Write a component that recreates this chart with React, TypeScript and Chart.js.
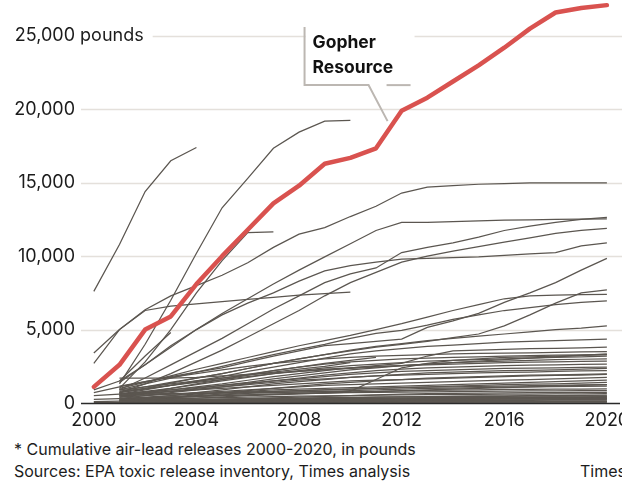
import React, { useEffect, useRef } from "react";
import { Chart, registerables } from "chart.js";

Chart.register(...registerables);

const _ = null;

const years = [2000, 2001, 2002, 2003, 2004, 2005, 2006, 2007, 2008, 2009, 2010, 2011, 2012, 2013, 2014, 2015, 2016, 2017, 2018, 2019, 2020];
const yTicks = [0, 5000, 10000, 15000, 20000, 25000];
const xTicks = [2000, 2004, 2008, 2012, 2016, 2020];
const unitLabel = "pounds";
const highlightName = ["Gopher", "Resource"];

// Gopher Resource, cumulative pounds
const gopherResource = [1100, 2600, 5000, 5900, 8100, 10000, 11800, 13600, 14800, 16300, 16700, 17350, 19900, 20800, 21900, 23000, 24200, 25500, 26600, 26900, 27100];

// other facilities, upper group
const upperLines = [
  [7600, 10800, 14400, 16500, 17400, _, _, _, _, _, _, _, _, _, _, _, _, _, _, _, _],
  [_, 1300, 4000, 7000, 10200, 13300, 15300, 17350, 18450, 19200, 19250, _, _, _, _, _, _, _, _, _, _],
  [_, 1000, 2800, 5000, 7500, 9700, 11600, 11650, _, _, _, _, _, _, _, _, _, _, _, _, _],
  [_, 1500, 3200, 4800, _, _, _, _, _, _, _, _, _, _, _, _, _, _, _, _, _],
  [2700, 5000, 6300, 6600, 6750, 6900, 7050, 7200, 7350, 7450, 7550, _, _, _, _, _, _, _, _, _, _],
  [3400, 5000, 6350, 7300, 8000, 8700, 9550, 10600, 11500, 11950, 12700, 13400, 14300, 14700, 14800, 14900, 14950, 15000, 15000, 15000, 15000],
  [_, 1400, 2600, 3800, 5000, 6100, 7100, 8100, 9050, 9950, 10850, 11750, 12300, 12300, 12350, 12400, 12450, 12480, 12500, 12520, 12550],
  [_, 900, 1700, 2600, 3500, 4400, 5400, 6400, 7300, 8200, 8800, 9200, 10250, 10600, 10900, 11300, 11750, 12050, 12300, 12500, 12650],
  [900, 1500, 2600, 3900, 5000, 6000, 6800, 7500, 8300, 9000, 9350, 9600, 9800, 9850, 9900, 9950, 10050, 10150, 10250, 10700, 10900],
  [_, 700, 1300, 2000, 2800, 3600, 4500, 5400, 6300, 7300, 8200, 8900, 9600, 10000, 10350, 10650, 10950, 11250, 11550, 11750, 11900],
];

// middle group
const middleLines = [
  [_, 1150, 1450, 1800, 2100, 2400, 2800, 3200, 3550, 3900, 4050, 4200, 4350, 5150, 5600, 6100, 6850, 7500, 8200, 9050, 9850],
  [_, 1000, 1400, 1850, 2300, 2700, 3100, 3500, 3900, 4250, 4600, 5000, 5400, 5850, 6300, 6700, 7100, 7300, 7350, 7380, 7400],
  [_, 700, 1000, 1350, 1700, 2000, 2350, 2700, 3000, 3300, 3550, 3800, 4000, 4200, 4450, 4700, 5250, 6000, 6800, 7500, 7700],
  [_, 900, 1300, 1700, 2100, 2500, 2900, 3300, 3650, 4000, 4400, 4750, 4950, 5300, 5700, 6000, 6300, 6500, 6700, 6850, 6950],
  [_, 800, 1100, 1400, 1700, 2000, 2350, 2700, 3000, 3300, 3600, 3850, 4050, 4250, 4400, 4550, 4700, 4850, 5000, 5100, 5250],
  [_, 600, 900, 1200, 1500, 1800, 2150, 2450, 2750, 3050, 3350, 3550, 3700, 3850, 3950, 4050, 4150, 4200, 4250, 4300, 4350],
  [_, 500, 700, 900, 1100, 1300, 1550, 1800, 2000, 2200, 2400, 2550, 2700, 3200, 3550, 3600, 3650, 3700, 3720, 3750, 3800],
  [_, 400, 700, 1000, 1300, 1600, 1900, 2200, 2450, 2700, 2900, 3100, _, _, _, _, _, _, _, _, _],
  [_, 900, 1100, 1300, 1500, 1700, 1900, 2100, 2300, 2500, 2750, _, _, _, _, _, _, _, _, _, _],
  [_, 600, 620, 640, 660, 680, 700, 720, 740, 760, 800, 1600, 2400, 2700, 2900, 3000, 3100, 3150, 3200, 3250, 3300],
  [700, 1100, 1450, 1750, 2000, 2250, 2500, 2700, 2850, 3000, 3100, 3200, 3250, 3300, 3350, 3380, 3400, 3420, 3450, 3480, 3500],
];

// lower group
const lowerLines = [
  [_, 700, 950, 1200, 1450, 1700, 1950, 2200, 2450, 2650, 2800, 2900, 3000, 3050, 3100, 3150, 3200, 3230, 3260, 3280, 3300],
  [_, 600, 800, 1000, 1250, 1500, 1750, 2000, 2200, 2400, 2550, 2650, 2750, 2850, 2900, 2950, 3000, 3050, 3100, 3150, 3200],
  [_, 400, 600, 800, 1000, 1200, 1400, 1650, 1850, 2050, 2250, 2400, 2550, 2650, 2750, 2800, 2850, 2900, 2950, 2980, 3000],
  [_, 800, 1000, 1200, 1400, 1600, 1800, 2000, 2150, 2300, 2400, 2500, 2550, 2600, 2650, 2700, 2750, 2780, 2800, 2830, 2850],
  [_, 300, 500, 700, 900, 1100, 1300, 1500, 1700, 1900, 2050, 2200, 2300, 2400, 2450, 2500, 2550, 2580, 2600, 2630, 2650],
  [_, 600, 750, 900, 1050, 1200, 1350, 1500, 1650, 1800, 1950, 2050, 2150, 2200, 2250, 2300, 2350, 2380, 2400, 2420, 2450],
  [_, 200, 350, 500, 700, 900, 1100, 1300, 1450, 1600, 1750, 1850, 1950, 2050, 2100, 2150, 2200, 2230, 2260, 2300, 2350],
  [_, 500, 650, 800, 950, 1100, 1250, 1400, 1550, 1650, 1750, 1850, 1900, 1950, 2000, 2050, 2080, 2100, 2150, 2180, 2200],
  [_, 100, 250, 400, 550, 700, 850, 1000, 1150, 1300, 1400, 1500, 1600, 1700, 1750, 1800, 1850, 1900, 1920, 1950, 1980],
  [_, 1700, 1700, 1700, 1750, 1850, 1950, 2050, 2150, 2250, 2350, 2450, 2550, 2650, 2750, 2850, 2950, 3050, 3150, 3250, 3350],
  [_, 400, 500, 600, 700, 800, 900, 1000, 1100, 1200, 1250, 1300, 1350, 1400, 1450, 1500, 1550, 1600, 1650, 1700, 1750],
  [_, 300, 400, 500, 600, 700, 800, 900, 950, 1000, 1050, 1100, 1150, 1200, 1250, 1300, 1350, 1400, 1450, 1500, 1550],
  [_, 200, 300, 400, 500, 600, 700, 800, 850, 900, 950, 1000, 1050, 1100, 1150, 1200, 1250, 1280, 1300, 1350, 1400],
  [_, 500, 550, 600, 650, 700, 750, 800, 850, 900, 950, 1000, 1050, 1080, 1100, 1130, 1150, 1180, 1200, 1230, 1250],
  [_, 150, 250, 350, 450, 550, 650, 700, 750, 800, 850, 900, 950, 1000, 1020, 1050, 1080, 1100, 1120, 1140, 1150],
  [_, 100, 180, 260, 340, 420, 500, 560, 620, 680, 740, 780, 820, 860, 880, 900, 920, 930, 940, 950, 960],
  [_, 300, 350, 400, 450, 500, 550, 600, 640, 680, 700, 720, 740, 760, 780, 800, 810, 820, 830, 840, 850],
  [_, 50, 100, 150, 200, 250, 300, 350, 400, 450, 500, 550, 600, 640, 660, 680, 690, 700, 710, 720, 730],
  [_, 250, 280, 310, 340, 370, 400, 430, 460, 490, 510, 530, 550, 570, 580, 590, 600, 610, 620, 630, 640],
  [_, 100, 130, 160, 190, 220, 250, 280, 310, 340, 370, 400, 420, 440, 460, 480, 490, 500, 510, 520, 530],
  [500, 600, 700, 800, 900, 1000, 1100, 1200, 1300, 1400, 1500, 1550, 1600, 1650, 1700, 1750, 1800, 1850, 1880, 1900, 1950],
  [250, 300, 350, 400, 450, 500, 550, 600, 650, 700, 750, 800, 850, 900, 950, 1000, 1050, 1100, 1150, 1200, 1250],
];

// facilities near zero
const floorLines = [
  [_, 200, 220, 240, 260, 280, 300, 320, 340, 360, 380, 400, 410, 420, 430, 440, 450, 460, 470, 480, 490],
  [_, 50, 80, 110, 140, 170, 200, 230, 260, 290, 310, 330, 350, 360, 370, 380, 390, 400, 410, 420, 430],
  [_, 150, 160, 170, 180, 190, 200, 210, 220, 230, 240, 250, 260, 270, 280, 290, 300, 310, 320, 330, 340],
  [_, 20, 40, 60, 80, 100, 120, 140, 160, 180, 200, 210, 220, 230, 240, 250, 260, 270, 280, 290, 300],
  [_, 100, 105, 110, 115, 120, 125, 130, 140, 150, 160, 170, 180, 190, 200, 210, 215, 220, 225, 230, 235],
  [100, 120, 140, 160, 180, 200, 220, 240, 260, 280, 300, 300, 300, 300, 300, 300, 300, 300, 300, 300, 300],
  [50, 50, 50, 60, 60, 60, 70, 70, 70, 80, 80, 80, 90, 90, 90, 100, 100, 100, 110, 110, 110],
  [_, 0, 0, 0, 0, 0, 0, 0, 0, 0, 0, 0, 0, 0, 0, 0, 0, 0, 0, 0, 0],
  [_, 30, 35, 40, 45, 50, 55, 60, 65, 70, 75, 80, 85, 90, 95, 100, 100, 100, 100, 100, 100],
  [_, 60, 70, 80, 90, 100, 110, 120, 130, 140, 150, 155, 160, 165, 170, 175, 180, 185, 190, 195, 200],
  [_, 10, 15, 20, 25, 30, 35, 40, 45, 50, 55, 60, 60, 60, 60, 60, 60, 60, 60, 60, 60],
  [_, 40, 60, 80, 100, 120, 140, 160, 180, 200, 220, 240, 260, 280, 300, 320, 340, 360, 380, 400, 420],
  [_, 20, 25, 30, 35, 40, 45, 50, 55, 60, 65, 70, 75, 80, 85, 90, 95, 100, 105, 110, 115],
  [_, 180, 190, 200, 210, 220, 230, 240, 250, 260, 270, 280, 290, 300, 310, 320, 330, 340, 350, 360, 370],
];

// callout pointer tip (data units)
const calloutTip = { year: 2011.45, value: 19200 };

const FONT = "Inter, 'Liberation Sans', Arial, sans-serif";
const LABEL_RIGHT = 75;
const GRAY = "#5b5650";
const RED = "#d9524f";

const toPoints = (vals: (number | null)[]) => vals.map((v, i) => ({ x: years[i], y: v }));

const decorations = {
  id: "decorations",
  beforeDatasetsDraw(chart: any) {
    const { ctx, scales, chartArea } = chart;
    const y = scales.y;
    const x = scales.x;
    ctx.save();
    ctx.font = `18px ${FONT}`;
    const unitWidth = ctx.measureText(" " + unitLabel).width;
    ctx.strokeStyle = "#e4e0db";
    ctx.lineWidth = 1.5;
    yTicks.forEach((v, i) => {
      if (v === 0) return;
      const py = Math.round(y.getPixelForValue(v)) + 0.5;
      const start = i === yTicks.length - 1 ? LABEL_RIGHT + unitWidth + 9 : chartArea.left;
      ctx.beginPath();
      ctx.moveTo(start, py);
      ctx.lineTo(chart.width, py);
      ctx.stroke();
    });
    const tx = x.getPixelForValue(calloutTip.year);
    const ty = y.getPixelForValue(calloutTip.value);
    ctx.fillStyle = "#ffffff";
    ctx.fillRect(tx - 82, ty - 96, 109, 59);
    ctx.restore();
  },
  afterDatasetsDraw(chart: any) {
    const { ctx, scales, chartArea } = chart;
    const y = scales.y;
    const x = scales.x;
    ctx.save();
    // zero axis line
    const y0 = Math.round(y.getPixelForValue(0)) + 0.5;
    ctx.strokeStyle = "#2a2a2a";
    ctx.lineWidth = 1.5;
    ctx.beginPath();
    ctx.moveTo(chartArea.left, y0);
    ctx.lineTo(chart.width - 2, y0);
    ctx.stroke();

    // y tick labels
    ctx.fillStyle = "#1c1c1c";
    ctx.font = `18px ${FONT}`;
    ctx.textBaseline = "alphabetic";
    yTicks.forEach((v, i) => {
      const py = y.getPixelForValue(v);
      const label = v.toLocaleString("en-US");
      ctx.textAlign = "right";
      ctx.fillText(label, LABEL_RIGHT, py + 5.5);
      if (i === yTicks.length - 1) {
        ctx.textAlign = "left";
        ctx.fillText(" " + unitLabel, LABEL_RIGHT, py + 5.5);
      }
    });
    // x tick labels
    ctx.textAlign = "center";
    xTicks.forEach((t) => {
      ctx.fillText(String(t), x.getPixelForValue(t), y0 + 22);
    });

    // callout
    const tx = x.getPixelForValue(calloutTip.year);
    const ty = y.getPixelForValue(calloutTip.value);
    ctx.strokeStyle = "#bcb7b2";
    ctx.lineWidth = 2;
    ctx.beginPath();
    ctx.moveTo(tx - 83, ty - 94);
    ctx.lineTo(tx - 83, ty - 36);
    ctx.lineTo(tx - 19, ty - 36);
    ctx.lineTo(tx, ty);
    ctx.stroke();
    ctx.beginPath();
    ctx.moveTo(tx - 1, ty - 36);
    ctx.lineTo(tx + 23, ty - 36);
    ctx.stroke();
    ctx.fillStyle = "#111111";
    ctx.font = `700 17.5px ${FONT}`;
    ctx.textAlign = "left";
    ctx.fillText(highlightName[0], tx - 75, ty - 73);
    ctx.fillText(highlightName[1], tx - 75, ty - 48);
    ctx.restore();
  },
};

export default function App() {
  const ref = useRef<HTMLCanvasElement | null>(null);

  useEffect(() => {
    if (!ref.current) return;
    const grayLines = [...upperLines, ...middleLines, ...lowerLines, ...floorLines];
    const datasets: any[] = [
      {
        label: "Gopher Resource",
        data: toPoints(gopherResource),
        borderColor: RED,
        borderWidth: 4.5,
        borderJoinStyle: "round",
        borderCapStyle: "round",
        clip: false,
      },
      ...grayLines.map((vals, i) => ({
        label: `Facility ${i + 1}`,
        data: toPoints(vals),
        borderColor: GRAY,
        borderWidth: 1.25,
        clip: false,
      })),
    ];
    const chart = new Chart(ref.current, {
      type: "line",
      data: { datasets },
      options: {
        animation: false,
        responsive: false,
        maintainAspectRatio: false,
        layout: { padding: { left: 81, right: 1, top: 0, bottom: 29 } },
        scales: {
          x: { type: "linear", min: 1999.5, max: 2020.55, display: false },
          y: { min: 0, max: 27450, display: false },
        },
        elements: { point: { radius: 0 }, line: { tension: 0 } },
        plugins: { legend: { display: false }, tooltip: { enabled: false } },
      },
      plugins: [decorations],
    } as any);
    return () => chart.destroy();
  }, []);

  const noteStyle: React.CSSProperties = {
    position: "absolute",
    fontFamily: FONT,
    fontSize: 16,
    lineHeight: "18px",
    color: "#1c1c1c",
    whiteSpace: "nowrap",
  };

  return (
    <div
      style={{
        position: "absolute",
        left: 0,
        top: 0,
        width: 622,
        height: 481,
        overflow: "hidden",
        background: "#ffffff",
      }}
    >
      <canvas ref={ref} width={622} height={432} style={{ position: "absolute", left: 0, top: 0 }} />
      <div style={{ ...noteStyle, left: 14, top: 440 }}>* Cumulative air-lead releases 2000-2020, in pounds</div>
      <div style={{ ...noteStyle, left: 14, top: 462 }}>Sources: EPA toxic release inventory, Times analysis</div>
      <div style={{ ...noteStyle, left: 580, top: 462 }}>Times</div>
    </div>
  );
}
